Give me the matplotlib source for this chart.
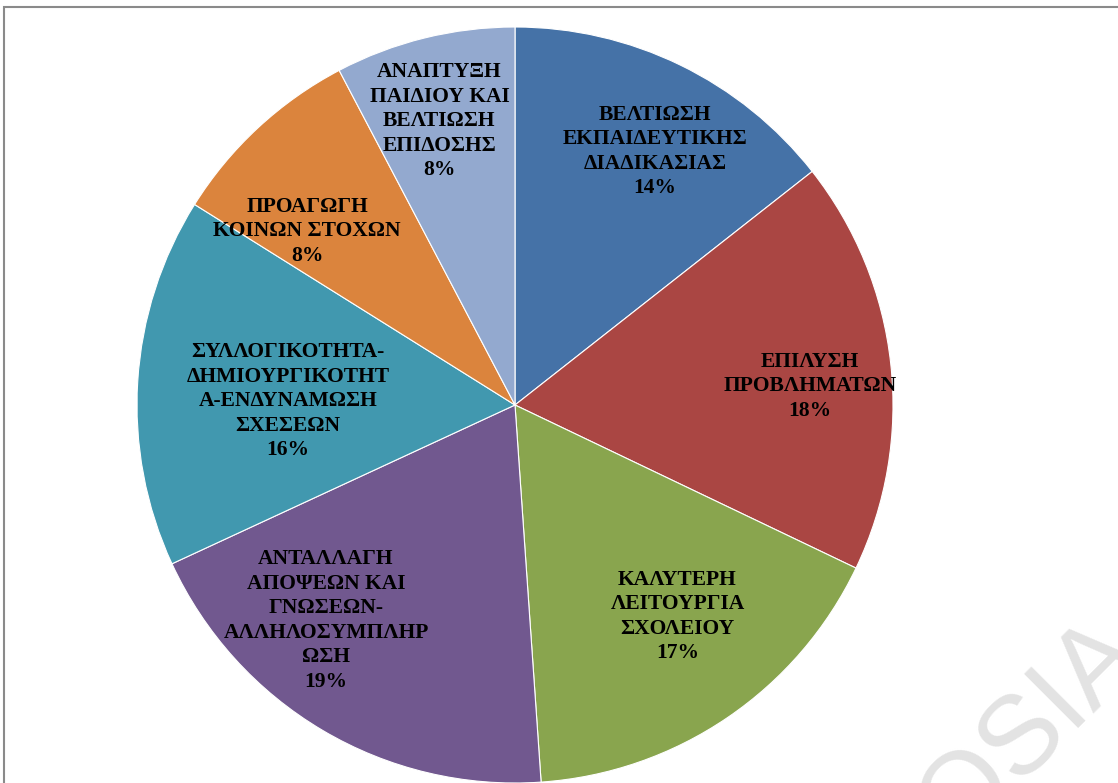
import matplotlib
matplotlib.use("Agg")
import matplotlib.pyplot as plt
from matplotlib.patches import Rectangle

categories = [
    "ΒΕΛΤΙΩΣΗ\nΕΚΠΑΙΔΕΥΤΙΚΗΣ\nΔΙΑΔΙΚΑΣΙΑΣ",
    "ΕΠΙΛΥΣΗ\nΠΡΟΒΛΗΜΑΤΩΝ",
    "ΚΑΛΥΤΕΡΗ\nΛΕΙΤΟΥΡΓΙΑ\nΣΧΟΛΕΙΟΥ",
    "ΑΝΤΑΛΛΑΓΗ\nΑΠΟΨΕΩΝ ΚΑΙ\nΓΝΩΣΕΩΝ-\nΑΛΛΗΛΟΣΥΜΠΛΗΡ\nΩΣΗ",
    "ΣΥΛΛΟΓΙΚΟΤΗΤΑ-\nΔΗΜΙΟΥΡΓΙΚΟΤΗΤ\nΑ-ΕΝΔΥΝΑΜΩΣΗ\nΣΧΕΣΕΩΝ",
    "ΠΡΟΑΓΩΓΗ\nΚΟΙΝΩΝ ΣΤΟΧΩΝ",
    "ΑΝΑΠΤΥΞΗ\nΠΑΙΔΙΟΥ ΚΑΙ\nΒΕΛΤΙΩΣΗ\nΕΠΙΔΟΣΗΣ",
]
values = [14.4, 17.7, 16.8, 19.2, 15.8, 8.4, 7.7]
colors = ["#4572A7", "#AA4643", "#89A54E", "#71588F", "#4198AF", "#DB843D", "#93A9CF"]
# label centre offsets (in units of pie radius)
label_xy = [(0.37, 0.67), (0.78, 0.05), (0.43, -0.56), (-0.50, -0.57),
            (-0.60, 0.01), (-0.55, 0.46), (-0.20, 0.75)]

W, H = 1118, 783
fig = plt.figure(figsize=(W / 100, H / 100), dpi=100)
ax = fig.add_axes([0, 0, 1, 1])
cx, cy, R = 515, 405, 378
ax.axis("off")

wedges, _ = ax.pie(values, colors=colors, startangle=90, counterclock=False,
                   radius=1.0, wedgeprops=dict(edgecolor="white", linewidth=0.8))
ax.set_aspect("auto")
ax.set_xlim(-cx / R, (W - cx) / R)
ax.set_ylim(-(H - cy) / R, cy / R)

total = sum(values)
for lab, v, (x, y) in zip(categories, values, label_xy):
    ax.text(x, y, f"{lab}\n{round(v / total * 100):d}%", ha="center", va="center",
            fontsize=15.5, fontweight="bold", family="Liberation Serif",
            color="black", linespacing=1.3)

# watermark
fig.text(1030 / W, 1 - 730 / H, "OSIA", rotation=45, fontsize=80, color="#e3e3e3",
         ha="center", va="center", rotation_mode="anchor", family="Liberation Sans",
         zorder=5)

# chart area border
fig.add_artist(Rectangle((4 / W, -0.1), 1.2, 1 - 7 / H + 0.1, transform=fig.transFigure,
                         fill=False, edgecolor="#8a8a8a", linewidth=1.5))

fig.savefig("out.png", dpi=100)
